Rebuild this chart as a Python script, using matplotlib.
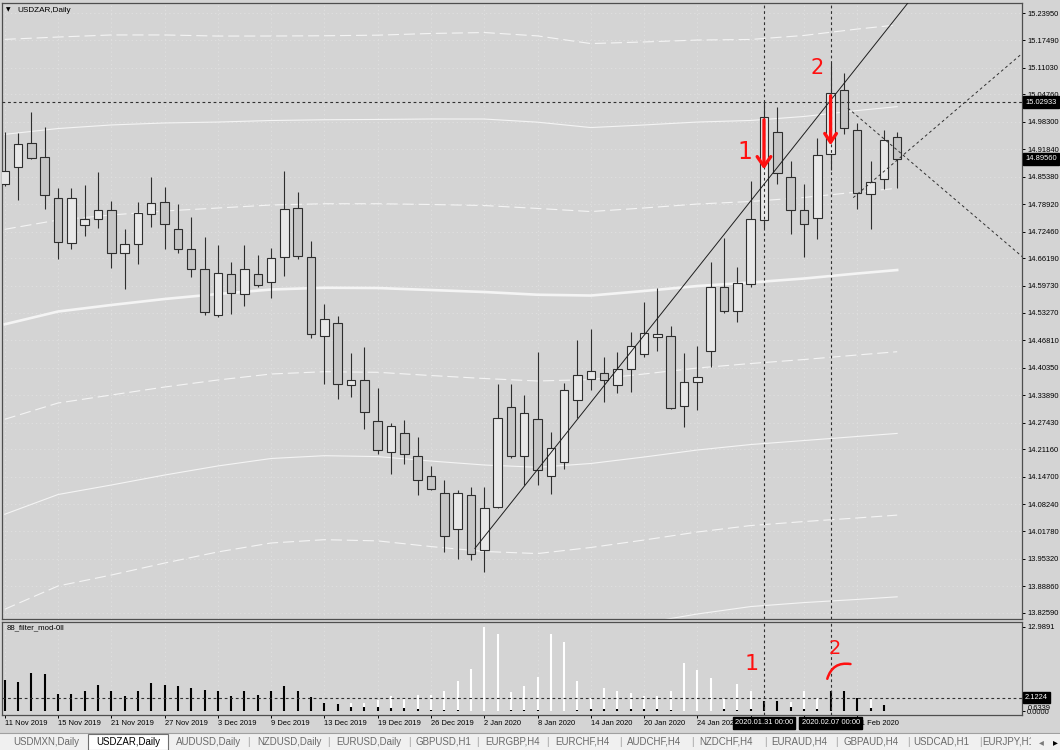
import matplotlib
matplotlib.use("Agg")
import matplotlib.pyplot as plt
from matplotlib import font_manager
from matplotlib.patches import FancyArrowPatch, Rectangle
from matplotlib.lines import Line2D
from matplotlib.transforms import blended_transform_factory

# ---------------- data ----------------
SYMBOL = "USDZAR,Daily"
INDICATOR = "88_filter_mod-0ll"

opens = [14.8373, 14.8766, 14.9339, 14.9009, 14.8043, 14.6983, 14.7393, 14.7534, 14.7746, 14.6747,
         14.6959, 14.7652, 14.7935, 14.7313, 14.6827, 14.6356, 14.5272, 14.6238, 14.5781, 14.6252,
         14.6057, 14.6646, 14.7807, 14.6653, 14.4784, 14.5098, 14.3623, 14.3747, 14.2781, 14.2051,
         14.2506, 14.1957, 14.1485, 14.1078, 14.0244, 14.1031, 13.9735, 14.0762, 14.3118, 14.1957,
         14.2821, 14.1485, 14.1815, 14.3276, 14.3764, 14.3919, 14.3623, 14.3999, 14.4353, 14.4768,
         14.4784, 14.3135, 14.3689, 14.4431, 14.5932, 14.5366, 14.6017, 14.7525, 14.9591, 14.8538,
         14.7746, 14.7572, 14.9080, 15.0581, 14.9631, 14.8123, 14.8477, 14.9480]
highs = [14.9598, 14.9560, 15.0069, 14.9702, 14.8264, 14.8264, 14.8342, 14.8656, 14.7965, 14.7298,
         14.7935, 14.8524, 14.8302, 14.7894, 14.7581, 14.7110, 14.6928, 14.6528, 14.6928, 14.6693,
         14.6865, 14.8672, 14.8184, 14.7023, 14.5538, 14.5255, 14.4377, 14.4532, 14.3552, 14.2741,
         14.2805, 14.2411, 14.1721, 14.1391, 14.1148, 14.1233, 14.1233, 14.3646, 14.3646, 14.3387,
         14.4414, 14.2529, 14.3670, 14.4690, 14.4942, 14.4282, 14.4407, 14.4878, 14.5585, 14.5915,
         14.5020, 14.4384, 14.4548, 14.6535, 14.7086, 14.6417, 14.8436, 15.0305, 15.0187, 14.8908,
         14.8366, 14.9443, 15.1210, 15.0974, 14.9810, 14.8908, 14.9638, 14.9598]
lows = [14.8319, 14.7989, 14.8948, 14.7770, 14.6606, 14.6827, 14.7141, 14.7329, 14.6394, 14.5885,
        14.6474, 14.7353, 14.6841, 14.6747, 14.6174, 14.5272, 14.5232, 14.5303, 14.5491, 14.5939,
        14.5687, 14.6198, 14.6606, 14.4730, 14.3646, 14.3293, 14.3354, 14.2586, 14.2004, 14.1540,
        14.1775, 14.1045, 14.1148, 13.9695, 13.9537, 13.9499, 13.9223, 14.0743, 14.1910, 14.1273,
        14.1285, 14.1054, 14.1643, 14.2845, 14.3521, 14.3236, 14.3441, 14.3458, 14.4282, 14.4438,
        14.3071, 14.2647, 14.3029, 14.4047, 14.5333, 14.5114, 14.5946, 14.7329, 14.8373, 14.7181,
        14.6646, 14.7063, 14.8696, 14.9537, 14.7770, 14.7298, 14.8255, 14.8279]
closes = [14.8679, 14.9301, 14.8978, 14.8100, 14.6999, 14.8043, 14.7534, 14.7746, 14.6747, 14.6959,
          14.7690, 14.7911, 14.7416, 14.6841, 14.6356, 14.5350, 14.6276, 14.5804, 14.6356, 14.5979,
          14.6629, 14.7784, 14.6669, 14.4824, 14.5178, 14.3646, 14.3747, 14.2993, 14.2091, 14.2664,
          14.1997, 14.1384, 14.1186, 14.0065, 14.1078, 13.9655, 14.0738, 14.2845, 14.1957, 14.2977,
          14.1620, 14.2157, 14.3512, 14.3858, 14.3959, 14.3747, 14.4014, 14.4548, 14.4848, 14.4831,
          14.3095, 14.3707, 14.3811, 14.5946, 14.5380, 14.6040, 14.7534, 14.9937, 14.8632, 14.7746,
          14.7430, 14.9042, 15.0503, 14.9692, 14.8161, 14.8413, 14.9395, 14.8956]

# date ticks every 4 bars; the labels at bars 56 and 60 are hidden under the crosshair boxes
date_bars = [0, 4, 8, 12, 16, 20, 24, 28, 32, 36, 40, 44, 48, 52, 56, 60, 64]
date_labels = ["11 Nov 2019", "15 Nov 2019", "21 Nov 2019", "27 Nov 2019", "3 Dec 2019",
               "9 Dec 2019", "13 Dec 2019", "19 Dec 2019", "26 Dec 2019", "2 Jan 2020",
               "8 Jan 2020", "14 Jan 2020", "20 Jan 2020", "24 Jan 2020", "",
               "", "11 Feb 2020"]

price_ticks = ["15.23950", "15.17490", "15.11030", "15.04760", "14.98300", "14.91840", "14.85380",
               "14.78920", "14.72460", "14.66190", "14.59730", "14.53270", "14.46810", "14.40350",
               "14.33890", "14.27430", "14.21160", "14.14700", "14.08240", "14.01780", "13.95320",
               "13.88860", "13.82590"]

# envelope bands: mid line and deviation step, sampled at these bars
band_bars = [0, 4, 8, 12, 16, 20, 24, 28, 32, 36, 40, 44, 48, 52, 56, 60, 64, 67]
band_mid = [14.5060, 14.5361, 14.5515, 14.5656, 14.5774, 14.5880, 14.5922, 14.5915, 14.5868,
            14.5821, 14.5757, 14.5738, 14.5845, 14.5962, 14.6045, 14.6139, 14.6257, 14.6339]
band_dev = [0.2238, 0.2156, 0.2121, 0.2074, 0.2026, 0.1991, 0.1979, 0.1986, 0.2015,
            0.2038, 0.2033, 0.1979, 0.1956, 0.1932, 0.1909, 0.1909, 0.1920, 0.1925]
band_steps = [-4, -3, -2, -1, 1, 2, 3, 4]

filter_black = [4.80, 4.45, 5.96, 5.71, 2.68, 2.68, 3.18, 4.09, 3.08, 2.32,
                3.08, 4.35, 4.09, 3.84, 3.59, 3.33, 3.08, 2.43, 3.08, 2.58,
                3.08, 3.94, 3.08, 2.17, 1.31, 1.16, 0.76, 0.76, 0.66, 0.56,
                0.56, 0.40, 0.30, 0.30, 0.20, 0.15, 0.10, 0.10, 0.30, 0.30,
                0.20, 0.10, 0.10, 0.30, 0.40, 0.35, 0.35, 0.35, 0.35, 0.40,
                0.30, 0.10, 0.10, 0.15, 0.40, 0.30, 0.35, 1.67, 1.57, 0.66,
                0.35, 0.35, 3.08, 3.08, 2.07, 0.50, 1.06]
filter_white = [0, 0, 0, 0, 0, 0, 0, 0, 0, 0,
                0, 0, 0, 0, 0, 0, 0, 0, 0, 0,
                0, 0, 0, 0, 0, 0, 1.31, 1.31, 1.82, 2.32,
                2.07, 2.58, 2.58, 3.18, 4.70, 6.47, 12.9891, 11.85, 2.93, 3.94,
                5.31, 11.85, 10.60, 4.70, 2.07, 3.59, 3.18, 2.83, 2.43, 2.32,
                3.18, 7.48, 6.32, 5.20, 1.92, 4.19, 3.18, 0, 0, 1.41,
                3.18, 2.07, 0, 0, 0, 2.07, 0]
filter_max = 12.9891
filter_level = 2.1224
filter_extra = 0.6339

hline_price = 15.02933
bid_price = 14.89560
marker_bars = [57, 62]
marker_labels = ["2020.01.31 00:00", "2020.02.07 00:00"]

trend_bars = [35.3, 70.0]
trend_prices = [13.978, 15.350]
cross_a_bars = [63.3, 77.0]
cross_a_prices = [15.0155, 14.6490]
cross_b_bars = [63.7, 77.0]
cross_b_prices = [14.8045, 15.1608]

tabs = ["USDMXN,Daily", "USDZAR,Daily", "AUDUSD,Daily", "NZDUSD,Daily", "EURUSD,Daily",
        "GBPUSD,H1", "EURGBP,H4", "EURCHF,H4", "AUDCHF,H4", "NZDCHF,H4", "EURAUD,H4",
        "GBPAUD,H4", "USDCAD,H1", "EURJPY,H1"]
tab_centers = [46, 128, 209, 289, 369, 443, 513, 582, 654, 726, 799, 871, 941, 1008]
tab_separators = [248, 328, 409, 477, 547, 620, 692, 765, 836, 908, 980]

# ---------------- style ----------------
W, H = 1060, 750
BG = "#d4d4d4"
BULL = "#e8e8e8"
BEAR = "#c6c6c6"
EDGE = "#2e2e2e"
BAND = "#f4f4f4"
GRID = "#e0e0e0"
DOT = "#303030"

installed = {f.name for f in font_manager.fontManager.ttflist}
UIFONT = "Liberation Sans" if "Liberation Sans" in installed else "DejaVu Sans"
FS = 5.4 if UIFONT == "Liberation Sans" else 4.8

plt.rcParams["lines.scale_dashes"] = False
plt.rcParams["font.family"] = [UIFONT, "DejaVu Sans"]

fig = plt.figure(figsize=(W / 100, H / 100), dpi=100)
fig.patch.set_facecolor(BG)


def fx(p):
    return p / W


def fy(p):
    return 1 - p / H


AX_L, AX_R = 2, 1022
ax = fig.add_axes([fx(AX_L), fy(619), (AX_R - AX_L) / W, (619 - 3) / H])
axi = fig.add_axes([fx(AX_L), fy(715), (AX_R - AX_L) / W, (715 - 622) / H])

XMIN, XMAX = -0.203, 76.37
for a in (ax, axi):
    a.set_facecolor(BG)
    a.set_xlim(XMIN, XMAX)
    for s in a.spines.values():
        s.set_color("#4e4e4e")
        s.set_linewidth(0.9)
ax.set_ylim(13.8116, 15.2631)
axi.set_ylim(-0.537, 13.726)

# grid
gstyle = dict(color=GRID, lw=0.6, ls=(0, (1, 2)), zorder=0.5)
for a in (ax, axi):
    for b in date_bars:
        a.axvline(b, **gstyle)
for t in price_ticks:
    ax.axhline(float(t), **gstyle)

# bands
for k in band_steps:
    ys = [m + k * d for m, d in zip(band_mid, band_dev)]
    ls = (0, (8, 3.5)) if abs(k) % 2 else "-"
    ax.plot(band_bars, ys, color=BAND, lw=0.8, ls=ls, zorder=1)
ax.plot(band_bars, band_mid, color=BAND, lw=1.9, zorder=1)

# candles
idx = list(range(len(opens)))
ax.vlines(idx, lows, highs, color=EDGE, lw=0.8, zorder=3)
bottoms = [min(o, c) for o, c in zip(opens, closes)]
heights = [max(abs(c - o), 0.0006) for o, c in zip(opens, closes)]
colors = [BULL if c >= o else BEAR for o, c in zip(opens, closes)]
ax.bar(idx, heights, bottom=bottoms, width=0.64, color=colors, edgecolor=EDGE,
       linewidth=0.8, zorder=4)

# objects
ax.plot(trend_bars, trend_prices, color="#1e1e1e", lw=0.7, zorder=5)
ax.plot(cross_a_bars, cross_a_prices, color=DOT, lw=0.7, ls=(0, (2, 2)), zorder=5)
ax.plot(cross_b_bars, cross_b_prices, color=DOT, lw=0.7, ls=(0, (2, 2)), zorder=5)
ax.axhline(hline_price, color=DOT, lw=0.8, ls=(0, (2, 2)), zorder=5)
for b in marker_bars:
    ax.axvline(b, color=DOT, lw=0.8, ls=(0, (2, 2)), zorder=5)
    axi.axvline(b, color=DOT, lw=0.8, ls=(0, (2, 2)), zorder=5)

# price scale
ax.yaxis.tick_right()
ax.set_yticks([float(t) for t in price_ticks])
ax.set_yticklabels(price_ticks)
ax.tick_params(axis="y", direction="out", length=2.2, width=0.7, pad=1.5, labelsize=FS,
               colors="black")
ax.set_xticks([])
trans = blended_transform_factory(ax.transAxes, ax.transData)
for price in (hline_price, bid_price):
    ax.text(1.0 + 3 / 1020, price, f"{price:.5f}", transform=trans, ha="left", va="center",
            fontsize=FS, color="white", zorder=10, clip_on=False,
            bbox=dict(boxstyle="square,pad=0.3", fc="black", ec="black"))

# indicator
axi.vlines(range(len(filter_white)), 0, filter_white, color="white", lw=1.5, zorder=2)
axi.vlines(range(len(filter_black)), 0, filter_black, color="black", lw=1.5, zorder=3)
axi.axhline(filter_level, color=DOT, lw=0.8, ls=(0, (2, 2)), zorder=4)
axi.yaxis.tick_right()
axi.set_yticks([filter_max, 0.0])
axi.set_yticklabels([f"{filter_max:.4f}", "0.0000"])
axi.tick_params(axis="y", direction="out", length=2.2, width=0.7, pad=1.5, labelsize=FS)
transi = blended_transform_factory(axi.transAxes, axi.transData)
axi.text(1.0 + 3 / 1020, filter_level, f"{filter_level:.4f}", transform=transi, ha="left",
         va="center", fontsize=FS, color="white", zorder=10, clip_on=False,
         bbox=dict(boxstyle="square,pad=0.3", fc="black", ec="black"))
axi.text(1.0 + 6 / 1020, 0.45, f"{filter_extra:.4f}", transform=transi, ha="left",
         va="center", fontsize=FS, color="black", zorder=10, clip_on=False)

axi.set_xticks(date_bars)
axi.set_xticklabels(date_labels, ha="left")
axi.tick_params(axis="x", direction="out", length=2.2, width=0.7, pad=1.5, labelsize=FS,
                colors="black")
tb = blended_transform_factory(axi.transData, axi.transAxes)
for b, lab in zip(marker_bars, marker_labels):
    axi.text(b, -0.085, lab, transform=tb, ha="center", va="center", fontsize=FS,
             color="white", zorder=10, clip_on=False,
             bbox=dict(boxstyle="square,pad=0.3", fc="black", ec="black"))

# red hand annotations
RED = "#ff1010"
ax.text(55.6, 14.912, "1", color=RED, fontsize=17, family="DejaVu Sans",
        ha="center", va="center", zorder=12)
ax.text(61.0, 15.110, "2", color=RED, fontsize=15, family="DejaVu Sans",
        ha="center", va="center", zorder=12)
ax.add_patch(FancyArrowPatch((57, 14.9944), (57, 14.8648),
                             arrowstyle="->,head_length=0.5,head_width=0.35",
                             mutation_scale=14, color=RED, lw=2.4, zorder=12))
ax.add_patch(FancyArrowPatch((62, 15.0510), (62, 14.9214),
                             arrowstyle="->,head_length=0.45,head_width=0.3",
                             mutation_scale=14, color=RED, lw=2.4, zorder=12))
axi.text(56.1, 7.3, "1", color=RED, fontsize=16, family="DejaVu Sans",
         ha="center", va="center", zorder=12)
axi.text(62.3, 9.6, "2", color=RED, fontsize=14, family="DejaVu Sans",
         ha="center", va="center", zorder=12)
axi.add_patch(FancyArrowPatch((61.7, 4.6), (63.7, 7.2), arrowstyle="-",
                              connectionstyle="arc3,rad=-0.5", color=RED, lw=1.8, zorder=12))

# labels inside panels
fig.text(fx(8), fy(10), "\u25bc", family="DejaVu Sans", fontsize=4.2, ha="center",
         va="center", color="black")
fig.text(fx(17), fy(10), SYMBOL, fontsize=5.9, ha="left", va="center", color="black")
fig.text(fx(7), fy(628), INDICATOR, fontsize=5.6, ha="left", va="center", color="black")

# tab bar
fig.add_artist(Rectangle((0, 0), 1, 17 / H, transform=fig.transFigure, fc="#f0f0f0",
                         ec="none", zorder=1))
fig.add_artist(Line2D([0, 1], [fy(733), fy(733)], transform=fig.transFigure, color="#a0a0a0",
                      lw=0.8, zorder=2))
fig.add_artist(Rectangle((fx(88), 0), (168 - 88) / W, 16 / H, transform=fig.transFigure,
                         fc="white", ec="#707070", lw=0.8, zorder=2))
for name, cx in zip(tabs, tab_centers):
    sel = name == SYMBOL
    fig.text(fx(cx), fy(742), name, fontsize=7, family=UIFONT, ha="center", va="center",
             color="black" if sel else "#6a6a6a", zorder=3)
for sx in tab_separators:
    fig.text(fx(sx), fy(742), "|", fontsize=7, family=UIFONT, ha="center", va="center",
             color="#9a9a9a", zorder=3)
fig.add_artist(Rectangle((fx(1031), 0), (W - 1031) / W, 16.5 / H, transform=fig.transFigure,
                         fc="#f0f0f0", ec="none", zorder=4))
fig.text(fx(1041), fy(742), "\u25c2", family="DejaVu Sans", fontsize=7, ha="center",
         va="center", color="#7a7a7a", zorder=5)
fig.text(fx(1055), fy(742), "\u25b8", family="DejaVu Sans", fontsize=7, ha="center",
         va="center", color="black", zorder=5)

fig.savefig("out.png", dpi=100, facecolor=BG)
